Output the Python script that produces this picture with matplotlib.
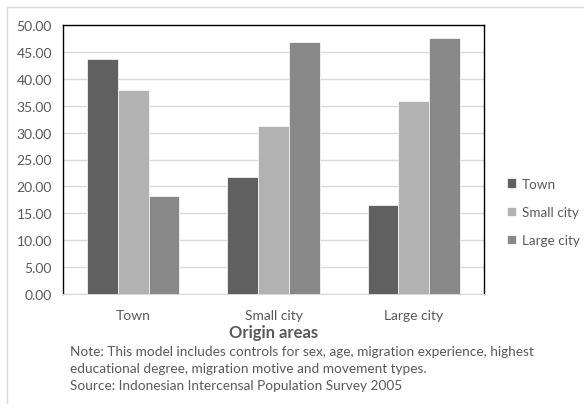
import numpy as np
import matplotlib
matplotlib.use("Agg")
import matplotlib.pyplot as plt
from matplotlib.lines import Line2D

categories = ["Town", "Small city", "Large city"]
series_names = ["Town", "Small city", "Large city"]
town_vals = [43.6, 21.8, 16.6]
small_city_vals = [37.9, 31.3, 35.8]
large_city_vals = [18.3, 46.8, 47.5]
colors = ["#606060", "#b2b2b2", "#888888"]
note_lines = [
    "Note: This model includes controls for sex, age, migration experience, highest",
    "educational degree, migration motive and movement types.",
    "Source: Indonesian Intercensal Population Survey 2005",
]

plt.rcParams["font.family"] = ["Lato", "DejaVu Sans"]
text_color = "#595959"

W, H = 584, 410
fig = plt.figure(figsize=(W / 100, H / 100), dpi=100)
ax = fig.add_axes([63 / W, 1 - 295 / H, (484 - 63) / W, (295 - 26) / H])

x = np.arange(len(categories))
width = 0.22
for i, (vals, name) in enumerate(zip([town_vals, small_city_vals, large_city_vals], series_names)):
    ax.bar(x + (i - 1) * width, vals, width, color=colors[i], label=name,
           edgecolor="white", linewidth=0.5, zorder=3)

ax.set_xlim(-0.5, 2.5)
ax.set_ylim(0, 50)
ax.set_yticks(np.arange(0, 50.1, 5))
ax.set_yticklabels([f"{v:.2f}" for v in np.arange(0, 50.1, 5)])
ax.set_xticks(x)
ax.set_xticklabels(categories)
ax.grid(axis="y", color="#d9d9d9", linewidth=1, zorder=0)
ax.tick_params(axis="both", length=0, labelsize=10, colors=text_color)
ax.tick_params(axis="x", pad=11)
ax.tick_params(axis="y", pad=8)
for side in ["left", "top", "right"]:
    ax.spines[side].set_color("black")
    ax.spines[side].set_linewidth(1)
ax.spines["bottom"].set_color("#d9d9d9")

fig.text((63 + 484) / 2 / W, 1 - 333 / H, "Origin areas", ha="center", va="center",
         fontsize=12, fontweight="bold", color=text_color)
for k, line in enumerate(note_lines):
    fig.text(70 / W, 1 - (352 + 17 * k) / H, line, ha="left", va="center",
             fontsize=9.8, color=text_color)

leg = fig.legend(loc="center left", bbox_to_anchor=(507 / W, 1 - 213 / H), frameon=False,
                 fontsize=9.7, handlelength=0.7, handleheight=0.7, handletextpad=0.4,
                 labelspacing=1.2, borderpad=0, borderaxespad=0)
for t in leg.get_texts():
    t.set_color(text_color)

fig.add_artist(Line2D([7 / W, 1], [1 - 8 / H, 1 - 8 / H], color="#d9d9d9", linewidth=1))
fig.add_artist(Line2D([7 / W, 7 / W], [1 - 8 / H, 1 - 404 / H], color="#d9d9d9", linewidth=1))

fig.savefig("out.png", dpi=100)
